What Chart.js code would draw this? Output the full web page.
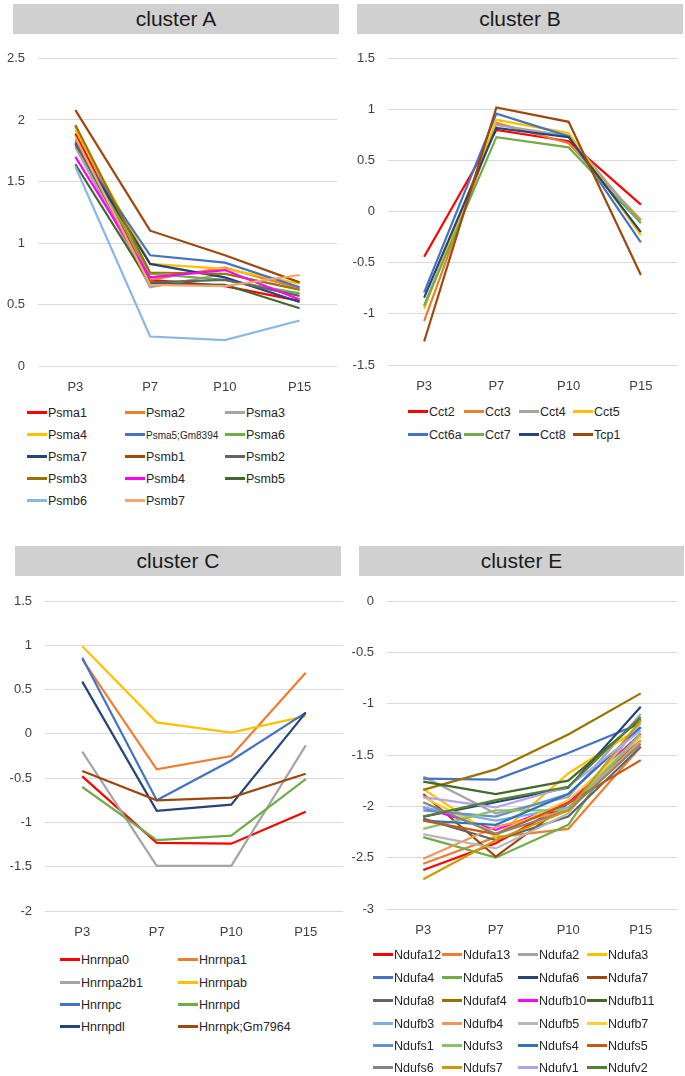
<!DOCTYPE html>
<html><head><meta charset="utf-8">
<script src="https://cdn.jsdelivr.net/npm/chart.js@4"></script>
<style>
body{margin:0;background:#fff;width:685px;height:1076px;position:relative;overflow:hidden;font-family:"Liberation Sans",Arial,sans-serif;}
.title{position:absolute;background:#d0d0d0;color:#1a1a1a;font-size:21px;text-align:center;line-height:30px;height:30px;}
canvas{position:absolute;}
.leg{position:absolute;font-size:12.5px;color:#262626;white-space:nowrap;line-height:14px;height:14px;}
.leg i{display:inline-block;width:20px;height:2.5px;vertical-align:middle;margin-right:1px;position:relative;top:-1px;}
</style></head><body>
<div class="title" style="left:13px;top:4px;width:326px;">cluster A</div>
<div class="title" style="left:357px;top:4px;width:326px;">cluster B</div>
<div class="title" style="left:15px;top:546px;width:326px;">cluster C</div>
<div class="title" style="left:359px;top:546px;width:325px;">cluster E</div>
<canvas id="cA" width="340" height="350" style="left:0;top:50px"></canvas>
<canvas id="cB" width="345" height="350" style="left:340px;top:50px"></canvas>
<canvas id="cC" width="345" height="355" style="left:0;top:590px"></canvas>
<canvas id="cE" width="345" height="355" style="left:340px;top:590px"></canvas>
<div id="legends"></div>
<script>
const categories = ['P3', 'P7', 'P10', 'P15'];

// cluster A
const clusterA_labels = ['Psma1','Psma2','Psma3','Psma4','Psma5;Gm8394','Psma6','Psma7','Psmb1','Psmb2','Psmb3','Psmb4','Psmb5','Psmb6','Psmb7'];
const clusterA_colors = ['#FF0000','#ED7D31','#A5A5A5','#FFC000','#4472C4','#70AD47','#264478','#9E480E','#636363','#997300','#FF00FF','#43682B','#8AB8E4','#F4A46C'];
const clusterA_values = [
  [1.89, 0.70, 0.65, 0.53],
  [1.95, 0.70, 0.80, 0.63],
  [1.78, 0.64, 0.75, 0.62],
  [1.92, 0.83, 0.79, 0.67],
  [1.80, 0.90, 0.84, 0.64],
  [1.84, 0.75, 0.70, 0.59],
  [1.81, 0.83, 0.72, 0.52],
  [2.08, 1.10, 0.90, 0.68],
  [1.82, 0.68, 0.70, 0.57],
  [1.96, 0.76, 0.75, 0.62],
  [1.70, 0.72, 0.78, 0.54],
  [1.64, 0.67, 0.66, 0.47],
  [1.62, 0.24, 0.21, 0.37],
  [1.86, 0.66, 0.65, 0.74]
];

// cluster B
const clusterB_labels = ['Cct2','Cct3','Cct4','Cct5','Cct6a','Cct7','Cct8','Tcp1'];
const clusterB_colors = ['#FF0000','#ED7D31','#A5A5A5','#FFC000','#4472C4','#70AD47','#264478','#9E480E'];
const clusterB_values = [
  [-0.44, 0.80, 0.69, 0.07],
  [-1.07, 0.87, 0.67, -0.08],
  [-0.92, 0.85, 0.74, -0.11],
  [-0.95, 0.90, 0.77, -0.23],
  [-0.79, 0.96, 0.74, -0.30],
  [-0.92, 0.73, 0.63, -0.11],
  [-0.84, 0.82, 0.73, -0.20],
  [-1.27, 1.02, 0.88, -0.62]
];

// cluster C
const clusterC_labels = ['Hnrnpa0','Hnrnpa1','Hnrnpa2b1','Hnrnpab','Hnrnpc','Hnrnpd','Hnrnpdl','Hnrnpk;Gm7964'];
const clusterC_colors = ['#FF0000','#ED7D31','#A5A5A5','#FFC000','#4472C4','#70AD47','#264478','#9E480E'];
const clusterC_values = [
  [-0.48, -1.23, -1.24, -0.88],
  [0.84, -0.40, -0.25, 0.69],
  [-0.20, -1.49, -1.49, -0.13],
  [0.99, 0.13, 0.015, 0.20],
  [0.86, -0.75, -0.30, 0.24],
  [-0.60, -1.20, -1.15, -0.51],
  [0.59, -0.87, -0.80, 0.24],
  [-0.42, -0.75, -0.72, -0.45]
];

// cluster E
const clusterE_labels = ['Ndufa12','Ndufa13','Ndufa2','Ndufa3','Ndufa4','Ndufa5','Ndufa6','Ndufa7','Ndufa8','Ndufaf4','Ndufb10','Ndufb11','Ndufb3','Ndufb4','Ndufb5','Ndufb7','Ndufs1','Ndufs3','Ndufs4','Ndufs5','Ndufs6','Ndufs7','Ndufv1','Ndufv2'];
const clusterE_colors = ['#FF0000','#ED7D31','#A5A5A5','#FFC000','#4472C4','#70AD47','#264478','#9E480E','#636363','#997300','#FF00FF','#43682B','#7CAFDD','#F1975A','#B7B7B7','#FFCD33','#698ED0','#8CC168','#2E75B6','#C55A11','#848484','#CC9A00','#B4A2EE','#548235'];
const clusterE_values = [
  [-2.62, -2.36, -1.97, -1.29],
  [-2.56, -2.30, -2.22, -1.42],
  [-1.71, -2.07, -1.91, -1.10],
  [-1.83, -2.30, -1.68, -1.23],
  [-1.73, -1.74, -1.48, -1.19],
  [-2.30, -2.50, -2.18, -1.16],
  [-2.10, -1.96, -1.82, -1.03],
  [-1.88, -2.49, -1.97, -1.36],
  [-2.12, -2.33, -2.10, -1.42],
  [-1.84, -1.64, -1.30, -0.90],
  [-2.01, -2.23, -1.96, -1.29],
  [-1.76, -1.88, -1.75, -1.15],
  [-2.01, -2.14, -2.01, -1.32],
  [-2.51, -2.20, -2.04, -1.36],
  [-2.27, -2.41, -2.07, -1.19],
  [-1.91, -2.27, -1.94, -1.32],
  [-2.04, -2.10, -1.88, -1.23],
  [-2.22, -2.04, -2.04, -1.29],
  [-2.14, -2.18, -1.88, -1.23],
  [-2.14, -2.27, -1.97, -1.55],
  [-1.96, -2.27, -2.04, -1.39],
  [-2.71, -2.33, -2.04, -1.16],
  [-1.91, -2.01, -1.81, -1.26],
  [-2.10, -1.94, -1.81, -1.13]
];

function makeChart(id, labels, colors, values, yMin, yMax, yW, xH, padTop, padRight) {
  const datasets = labels.map((l, i) => ({
    label: l, data: values[i], borderColor: colors[i], backgroundColor: colors[i],
    borderWidth: 2.2, pointRadius: 0, tension: 0, fill: false
  }));
  new Chart(document.getElementById(id), {
    type: 'line',
    data: { labels: categories, datasets: datasets.slice().reverse() },
    options: {
      responsive: false, animation: false, devicePixelRatio: 1,
      layout: { padding: { top: padTop, right: padRight, left: 0, bottom: 0 } },
      plugins: { legend: { display: false }, tooltip: { enabled: false } },
      scales: {
        x: {
          offset: true,
          grid: { display: false, drawTicks: false },
          border: { display: false },
          ticks: { padding: 14, color: '#404040', font: { family: 'Liberation Sans', size: 13 } },
          afterFit: s => { s.height = xH; s.paddingLeft = 0; s.paddingRight = 0; }
        },
        y: {
          min: yMin, max: yMax,
          grid: { color: '#d9d9d9', lineWidth: 1, drawTicks: false },
          border: { display: false },
          ticks: {
            stepSize: 0.5, padding: 13, color: '#404040', font: { family: 'Liberation Sans', size: 13 },
            callback: v => String(Number(v.toFixed(2)))
          },
          afterFit: s => { s.width = yW; s.paddingTop = 0; s.paddingBottom = 0; }
        }
      }
    }
  });
}

makeChart('cA', clusterA_labels, clusterA_colors, clusterA_values, 0, 2.5, 38, 34, 8.5, 3);
makeChart('cB', clusterB_labels, clusterB_colors, clusterB_values, -1.5, 1.5, 48, 35, 8.5, 8);
makeChart('cC', clusterC_labels, clusterC_colors, clusterC_values, -2, 1.5, 45, 34, 11, 2);
makeChart('cE', clusterE_labels, clusterE_colors, clusterE_values, -3, 0, 47, 36, 11, 8);

function makeLegend(labels, colors, colX, rowY, small) {
  const host = document.getElementById('legends');
  labels.forEach((l, i) => {
    const c = i % colX.length, r = Math.floor(i / colX.length);
    const d = document.createElement('div');
    d.className = 'leg';
    d.style.left = colX[c] + 'px';
    d.style.top = (rowY[r] - 7) + 'px';
    const sw = document.createElement('i');
    sw.style.background = colors[i];
    const t = document.createElement('span');
    t.textContent = l;
    if (small && small.includes(l)) t.style.fontSize = '10px';
    d.appendChild(sw); d.appendChild(t);
    host.appendChild(d);
  });
}
makeLegend(clusterA_labels, clusterA_colors, [27, 125, 225], [413, 435, 457, 479, 501], ['Psma5;Gm8394']);
makeLegend(clusterB_labels, clusterB_colors, [408, 464, 519, 573], [412, 435]);
makeLegend(clusterC_labels, clusterC_colors, [60, 178], [960, 983, 1005, 1027]);
makeLegend(clusterE_labels, clusterE_colors, [373, 442, 518, 587], [955, 978, 1001, 1024, 1046, 1068]);
</script>
</body></html>
